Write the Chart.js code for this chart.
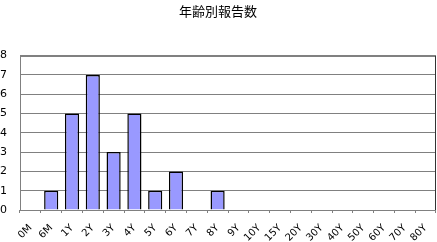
<!DOCTYPE html>
<html>
<head>
<meta charset="utf-8">
<script src="https://cdn.jsdelivr.net/npm/chart.js@4"></script>
<style>
  html, body { margin: 0; padding: 0; background: #fff; }
  #wrap { width: 437px; height: 242px; }
</style>
</head>
<body>
<div id="wrap"><canvas id="c" width="437" height="242"></canvas></div>
<script>
const ages = ['0M', '6M', '1Y', '2Y', '3Y', '4Y', '5Y', '6Y', '7Y', '8Y', '9Y', '10Y', '15Y', '20Y', '30Y', '40Y', '50Y', '60Y', '70Y', '80Y'];
const reports = [0, 1, 5, 7, 3, 5, 1, 2, 0, 1, 0, 0, 0, 0, 0, 0, 0, 0, 0, 0];
const yTicks = [0, 1, 2, 3, 4, 5, 6, 7, 8];

// frame round the plot area
const frame = {
    id: 'frame',
    afterDraw(chart){
        const a = chart.chartArea;
        const ctx = chart.ctx;
        ctx.save();
        ctx.strokeStyle = '#808080';
        ctx.lineWidth = 1;
        ctx.strokeRect(Math.round(a.left) + 0.5, Math.round(a.top) + 0.5,
            Math.round(a.right - a.left) - 1, Math.round(a.bottom - a.top));
        ctx.strokeStyle = '#333';
        ctx.beginPath();
        ctx.moveTo(Math.round(a.right) - 0.5, Math.round(a.top));
        ctx.lineTo(Math.round(a.right) - 0.5, Math.round(a.bottom));
        ctx.stroke();
        ctx.restore();
    }
};

new Chart(document.getElementById('c'), {
    type: 'bar',
    data: {
        labels: ages,
        datasets: [{
            label: '報告数',
            data: reports,
            backgroundColor: '#9999ff',
            borderColor: '#000000',
            borderWidth: 1.5,
            categoryPercentage: 0.68,
            barPercentage: 1
        }]
    },
    options: {
        responsive: false,
        animation: false,
        layout: { padding: { top: 0, right: 1, left: 0, bottom: 0 } },
        plugins: {
            legend: { display: false },
            tooltip: { enabled: false },
            title: {
                display: true,
                text: '年齢別報告数',
                color: '#000',
                font: { family: '"Noto Sans CJK JP"', size: 13, weight: 'normal' },
                padding: { top: 3, bottom: 37 }
            }
        },
        scales: {
            x: {
                offset: true,
                afterFit(axis){
                    axis.paddingLeft = 0;
                    axis.paddingRight = 0;
                    axis.height = 32;
                },
                grid: {
                    offset: true,
                    drawOnChartArea: false,
                    drawTicks: true,
                    tickLength: 3,
                    color: '#808080'
                },
                border: { display: false },
                ticks: {
                    color: '#000',
                    maxRotation: 45,
                    minRotation: 45,
                    autoSkip: false,
                    padding: 9,
                    font: { family: '"DejaVu Sans"', size: 10 }
                }
            },
            y: {
                min: 0,
                max: 8,
                afterBuildTicks(axis){
                    axis.ticks = yTicks.map(v => ({ value: v }));
                },
                afterFit(axis){
                    axis.width = 20;
                },
                grid: { color: '#808080', drawTicks: false },
                border: { display: false },
                ticks: {
                    color: '#000',
                    padding: 12,
                    font: { family: '"DejaVu Sans"', size: 11 },
                    crossAlign: 'far'
                }
            }
        }
    },
    plugins: [frame]
});
</script>
</body>
</html>
